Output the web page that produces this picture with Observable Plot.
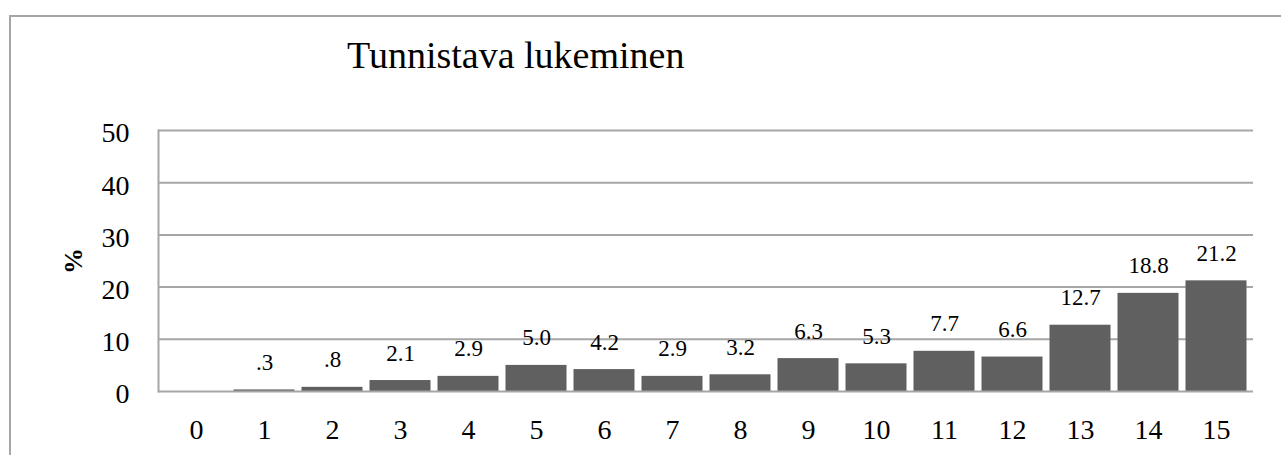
<!DOCTYPE html>
<html>
<head>
<meta charset="utf-8">
<script src="https://cdn.jsdelivr.net/npm/d3@7"></script>
<script src="https://cdn.jsdelivr.net/npm/@observablehq/plot@0.6"></script>
<style>
  html, body { margin: 0; padding: 0; background: #fff; overflow: hidden; }
  #wrap { position: relative; width: 1281px; height: 455px; overflow: hidden; }
  #outer { position: absolute; left: 9px; top: 15px; width: 1400px; height: 600px; border: 2px solid #a6a6a6; box-sizing: border-box; }
  #title { position: absolute; left: 347px; top: 36px; font-family: "Liberation Serif", serif; font-size: 38px; line-height: 1; color: #000; white-space: nowrap; }
  #ylab { position: absolute; left: 74px; top: 261px; transform: translate(-50%, -50%) rotate(-90deg); font-family: "Liberation Serif", serif; font-weight: bold; font-size: 26px; line-height: 1; color: #000; }
  #chart { position: absolute; left: 0; top: 0; }
</style>
</head>
<body>
<div id="wrap">
  <div id="outer"></div>
  <div id="chart"></div>
  <div id="title">Tunnistava lukeminen</div>
  <div id="ylab">%</div>
</div>
<script>
const categories = ["0","1","2","3","4","5","6","7","8","9","10","11","12","13","14","15"];
const values = [0, 0.3, 0.8, 2.1, 2.9, 5.0, 4.2, 2.9, 3.2, 6.3, 5.3, 7.7, 6.6, 12.7, 18.8, 21.2];
const yTicks = [0, 10, 20, 30, 40, 50];

const data = categories.map((c, i) => ({cat: c, v: values[i]}));
const fmt = v => v === 0 ? "" : d3.format(".1f")(v).replace(/^0\./, ".");

const grid = "#a6a6a6";
const plot = Plot.plot({
  width: 1281,
  height: 455,
  marginLeft: 158,
  marginRight: 28,
  marginTop: 130,
  marginBottom: 64,
  style: {fontFamily: "Liberation Serif, serif", fontSize: "28px", background: "transparent", color: "#000"},
  x: {type: "band", domain: categories, padding: 0, label: null},
  y: {domain: [0, 50], ticks: yTicks, label: null},
  marks: [
    Plot.ruleY(yTicks.filter(t => t > 0), {stroke: grid, strokeWidth: 2}),
    Plot.frame({anchor: "left", stroke: grid, strokeWidth: 2}),
    Plot.barY(data, {x: "cat", y: "v", fill: "#606060", insetLeft: 3.5, insetRight: 3.5}),
    Plot.ruleY([0], {stroke: grid, strokeWidth: 2}),
    Plot.text(data, {x: "cat", y: "v", text: d => fmt(d.v), lineAnchor: "bottom", dy: -20, fontSize: 23, fill: "#000"}),
    Plot.axisX({tickSize: 0, tickPadding: 28, fontSize: 28, label: null}),
    Plot.axisY({ticks: yTicks, tickSize: 0, tickPadding: 29, fontSize: 28, dy: 3, label: null})
  ]
});
document.getElementById("chart").appendChild(plot);
</script>
</body>
</html>
